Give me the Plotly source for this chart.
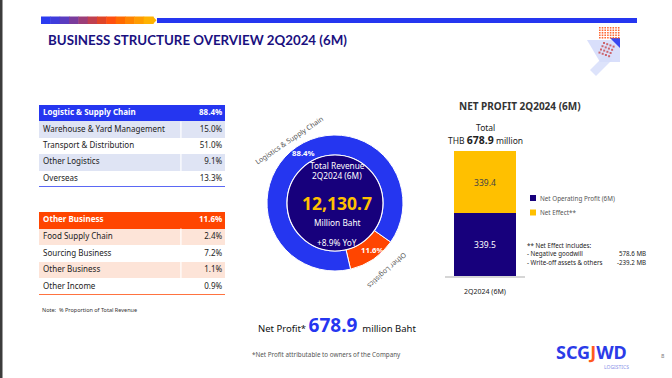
import plotly.graph_objects as go

# ---------------- data ----------------
logistics_header = "Logistic & Supply Chain"
logistics_total = 88.4
logistics_items = ["Warehouse & Yard Management", "Transport & Distribution", "Other Logistics", "Overseas"]
logistics_pct = [15.0, 51.0, 9.1, 13.3]

other_header = "Other Business"
other_total = 11.6
other_items = ["Food Supply Chain", "Sourcing Business", "Other Business", "Other Income"]
other_pct = [2.4, 7.2, 1.1, 0.9]

donut_labels = ["Other Logistics", "Logistics & Supply Chain"]
donut_values = [11.6, 88.4]
total_revenue = 12130.7
revenue_yoy = 8.9

bar_categories = ["2Q2024 (6M)"]
net_operating = [339.5]
net_effect = [339.4]
net_profit_total = 678.9
effect_items = ["Negative goodwill", "Write-off assets & others"]
effect_values = [578.6, -239.2]

# ---------------- style ----------------
W, H = 672, 378
BLUE = "#2536F0"
NAVY = "#17007C"
ORANGE = "#FF4500"
YELLOW = "#FFC000"
LBLUE = "#DFE4F4"
LORANGE = "#FDE4D8"
FONT = "Noto Sans"


def px(x):
    return x / W


def py(y):
    return 1 - y / H


annotations = []
shapes = []


def ann(x, y, text, size=8, color="#222", xanchor="center", yanchor="middle", angle=0, family=FONT, weight=None):
    f = dict(size=size, color=color, family=family)
    if weight:
        f["weight"] = weight
    annotations.append(dict(x=px(x), y=py(y), xref="paper", yref="paper", text=text, showarrow=False,
                            xanchor=xanchor, yanchor=yanchor, textangle=angle, font=f))


def rect(x0, y0, x1, y1, color, opacity=1):
    shapes.append(dict(type="rect", xref="paper", yref="paper", x0=px(x0), x1=px(x1), y0=py(y0), y1=py(y1),
                       fillcolor=color, opacity=opacity, line=dict(width=0), layer="below"))


fig = go.Figure()
layout_axes = {}

# ---------------- tables (bars on their own axes) ----------------
def add_table(n, header, total, items, pcts, hcolor, rcolor, top, bottom):
    xa, ya = f"x{n}", f"y{n}"
    rows = list(range(len(items) + 1))
    fills = [hcolor] + [rcolor if i % 2 == 0 else "white" for i in range(len(items))]
    fig.add_trace(go.Bar(
        orientation="h", x=[1] * len(rows), y=rows, width=1, base=0,
        marker=dict(color=fills, line=dict(width=0)), hoverinfo="skip",
        xaxis=xa, yaxis=ya, showlegend=False,
    ))
    colors = ["white"] + ["#222"] * len(items)
    fig.add_trace(go.Scatter(
        x=[0.022] * len(rows), y=rows, mode="text",
        text=[f"<b>{header}</b>"] + items, textposition="middle right",
        textfont=dict(size=8, color=colors, family=FONT), hoverinfo="skip",
        xaxis=xa, yaxis=ya, showlegend=False,
    ))
    fig.add_trace(go.Scatter(
        x=[0.985] * len(rows), y=rows, mode="text",
        text=[f"<b>{total:.1f}%</b>"] + [f"{v:.1f}%" for v in pcts], textposition="middle left",
        textfont=dict(size=8, color=colors, family=FONT), hoverinfo="skip",
        xaxis=xa, yaxis=ya, showlegend=False,
    ))
    layout_axes[f"xaxis{n}"] = dict(domain=[px(39), px(225)], range=[0, 1], visible=False,
                                    fixedrange=True, anchor=ya)
    layout_axes[f"yaxis{n}"] = dict(domain=[py(bottom), py(top)], range=[len(items) + 0.5, -0.5],
                                    visible=False, fixedrange=True, anchor=xa)
    shapes.append(dict(type="line", xref=xa, yref=ya, x0=0.763, x1=0.763, y0=0.5, y1=len(items) + 0.5,
                       line=dict(color="white", width=1.2)))
    shapes.append(dict(type="line", xref=xa, yref=ya, x0=0, x1=1, y0=len(items) + 0.5, y1=len(items) + 0.5,
                       line=dict(color=hcolor, width=1.5)))


add_table(2, logistics_header, logistics_total, logistics_items, logistics_pct, BLUE, LBLUE, 105, 187)
add_table(3, other_header, other_total, other_items, other_pct, ORANGE, LORANGE, 212, 295)
ann(40, 310, "Note:  % Proportion of Total Revenue", size=5.5, color="#333", xanchor="left")

# ---------------- donut ----------------
cx, cy, r_out, r_in = 335, 203, 68, 48
fig.add_trace(go.Pie(
    labels=donut_labels, values=donut_values, hole=r_in / r_out, sort=False,
    direction="clockwise", rotation=125, textinfo="none", hoverinfo="label+percent",
    marker=dict(colors=[ORANGE, BLUE], line=dict(color="white", width=1)),
    domain=dict(x=[px(cx - r_out), px(cx + r_out)], y=[py(cy + r_out), py(cy - r_out)]),
    showlegend=False,
))
fig.add_trace(go.Pie(
    labels=["Total Revenue"], values=[total_revenue], sort=False, textinfo="none", hoverinfo="skip",
    marker=dict(colors=[NAVY], line=dict(color="white", width=1.2)),
    domain=dict(x=[px(cx - r_in), px(cx + r_in)], y=[py(cy + r_in), py(cy - r_in)]),
    showlegend=False,
))
ann(337, 165, "Total Revenue", size=8.3, color="white")
ann(337, 175.5, "2Q2024 (6M)", size=8.3, color="white")
ann(337, 203, f"<b>{total_revenue:,.1f}</b>", size=17.5, color=YELLOW)
ann(337, 222, "Million Baht", size=8.3, color="white")
ann(337, 242, f"+{revenue_yoy:.1f}% YoY", size=8.3, color="white")
ann(303, 153, f"<b>{donut_values[1]:.1f}%</b>", size=7.8, color="white")
ann(372, 250, f"<b>{donut_values[0]:.1f}%</b>", size=7.8, color="white")
ann(289, 140, donut_labels[1], size=7, color="#555", angle=-34)
ann(387, 271, donut_labels[0], size=7, color="#555", angle=138)

# ---------------- stacked bar ----------------
fig.add_trace(go.Bar(
    x=bar_categories, y=net_operating, name="Net Operating Profit (6M)",
    marker=dict(color=NAVY, line=dict(width=0)), texttemplate="%{y:.1f}", textposition="inside",
    insidetextanchor="middle", textfont=dict(color="white", size=8.5, family=FONT),
    xaxis="x", yaxis="y", showlegend=False,
))
fig.add_trace(go.Bar(
    x=bar_categories, y=net_effect, name="Net Effect**",
    marker=dict(color=YELLOW, line=dict(width=0)), texttemplate="%{y:.1f}", textposition="inside",
    insidetextanchor="middle", textfont=dict(color="#444", size=8.5, family=FONT),
    xaxis="x", yaxis="y", showlegend=False,
))

ann(520, 106, "<b>NET PROFIT 2Q2024 (6M)</b>", size=10, color="#333")
ann(485, 127, "Total", size=8.5, color="#222")
ann(485, 139.5, f"THB <b><span style='font-size:10.5px'>{net_profit_total:.1f}</span></b> million", size=8.5, color="#222")

# legend (manual)
rect(530, 195, 536, 201, NAVY)
ann(538, 198, "Net Operating Profit (6M)", size=6.3, color="#555", xanchor="left")
rect(530, 209.5, 536, 215.5, YELLOW)
ann(538, 212.5, "Net Effect**", size=6.3, color="#555", xanchor="left")

ann(525, 245, "** Net Effect includes:", size=6.2, color="#222", xanchor="left")
for i, (name, val) in enumerate(zip(effect_items, effect_values)):
    ann(525, 253.5 + 8.5 * i, f"- {name}", size=6.2, color="#222", xanchor="left")
    ann(648, 253.5 + 8.5 * i, f"{val:.1f} MB", size=6.2, color="#222", xanchor="right")

# ---------------- bottom texts ----------------
ann(337, 325, f"Net Profit* <b><span style='font-size:19px;color:{BLUE}'>{net_profit_total:.1f}</span></b>  million Baht",
    size=9.5, color="#111")
ann(250, 354, "*Net Profit attributable to owners of the Company", size=6.3, color="#555", xanchor="left")
ann(591, 352, f"<b>SCG<span style='color:#FF5A1F'>J</span>WD</b>", size=18, color="#2B3BE8")
ann(631, 367, "LOGISTICS", size=5, color="#8A93E8", xanchor="right")
ann(663, 356, "8", size=6, color="#777")

# ---------------- header decoration ----------------
ann(46, 39.5, "<b>BUSINESS STRUCTURE OVERVIEW 2Q2024 (6M)</b>", size=13.3, color="#1A1080", xanchor="left",
    family="Lato", weight=900)
grad = ["#2B3BF0", "#3F3CDC", "#5A3CC0", "#7A3C9C", "#9C3E78", "#C04050", "#E04528", "#FF5010",
        "#FF6A00", "#FF8400", "#FF9C00", "#FFB200"]
x0 = 41
step = (153 - 41) / len(grad)
for i, c in enumerate(grad):
    rect(x0 + i * step, 16.5, x0 + (i + 1) * step + 0.5, 24, c)
shapes.append(dict(type="path", xref="paper", yref="paper", layer="below",
                   path=f"M {px(153)},{py(16.5)} L {px(156.5)},{py(20.2)} L {px(153)},{py(24)} Z",
                   fillcolor="#FFB200", line=dict(width=0)))
rect(157, 18, 637, 23, BLUE)
rect(0, 0, 2.5, 378, "#3C3C3C")

# logo ornament
shapes.append(dict(type="path", xref="paper", yref="paper", layer="below",
                   path=f"M {px(587)},{py(40)} L {px(620)},{py(40)} L {px(620)},{py(62)} L {px(600)},{py(62)} Z",
                   fillcolor="#C9D2FA", opacity=0.7, line=dict(width=0)))
shapes.append(dict(type="path", xref="paper", yref="paper", layer="below",
                   path=f"M {px(590)},{py(70)} L {px(606)},{py(54)} L {px(612)},{py(60)} L {px(596)},{py(76)} Z",
                   fillcolor="#D5DCFA", opacity=0.8, line=dict(width=0)))
shapes.append(dict(type="path", xref="paper", yref="paper", layer="below",
                   path=f"M {px(610)},{py(38)} L {px(620)},{py(38)} L {px(620)},{py(48)} Z",
                   fillcolor=BLUE, opacity=0.9, line=dict(width=0)))
for i in range(8):
    for j in range(5):
        rect(599 + i * 2.7, 27 + j * 2.5, 600.6 + i * 2.7, 28.6 + j * 2.5, "#FF5A1F", 0.9)
for i in range(4):
    for j in range(4):
        xx = 603 + i * 3.2 - j * 1.5
        yy = 42 + j * 3.2 + i * 1.2
        rect(xx, yy, xx + 2, yy + 2, "#C8464A", 0.8)

fig.update_layout(
    width=W, height=H, margin=dict(l=0, r=0, t=0, b=0),
    paper_bgcolor="white", plot_bgcolor="rgba(0,0,0,0)",
    barmode="stack", bargap=0.22,
    xaxis=dict(domain=[px(445), px(525)], showline=True, linecolor="#D6D6D6", linewidth=2,
               showgrid=False, zeroline=False, ticks="", ticklabelstandoff=8,
               tickfont=dict(size=7, color="#222", family=FONT), fixedrange=True),
    yaxis=dict(domain=[py(276), py(147)], range=[0, 700], visible=False, fixedrange=True),
    annotations=annotations, shapes=shapes,
    font=dict(family=FONT),
    **layout_axes,
)

fig.write_html("out.html", config={"displayModeBar": False},
               post_script="document.body.style.margin='0';document.body.style.overflow='hidden';")
